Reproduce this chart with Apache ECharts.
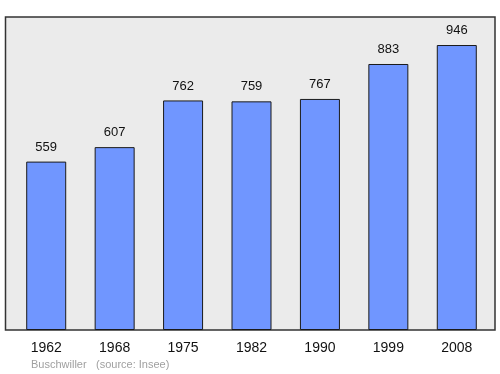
<!DOCTYPE html>
<html><head><meta charset="utf-8">
<script src="https://cdn.jsdelivr.net/npm/echarts@6/dist/echarts.min.js"></script>
<style>html,body{margin:0;padding:0;background:#fff}#c{width:500px;height:374px}</style>
</head><body><div id="c"></div>
<script>
const categories = ['1962','1968','1975','1982','1990','1999','2008'];
const population = [559, 607, 762, 759, 767, 883, 946];
const footerPlace = 'Buschwiller';
const footerSource = '(source: Insee)';

const FONT = '"Liberation Sans", Arial, sans-serif';
const chart = echarts.init(document.getElementById('c'), null, {renderer:'canvas'});
chart.setOption({
  animation: false,
  backgroundColor: '#ffffff',
  graphic: [
    {type:'rect', z:-10, shape:{x:5.5, y:17, width:489.5, height:313}, style:{fill:'#ebebeb', stroke:'#333333', lineWidth:1.5}},
    {type:'text', left:31, top:359, style:{text:footerPlace, fill:'#a0a0a0', font:'11px ' + FONT}},
    {type:'text', left:96, top:359, style:{text:footerSource, fill:'#a0a0a0', font:'11px ' + FONT}}
  ],
  grid: {left:12, right:9, top:17, bottom:44, containLabel:false},
  xAxis: {
    type:'category', data:categories,
    axisLine:{show:false}, axisTick:{show:false},
    axisLabel:{color:'#111', fontSize:14, margin:11, fontFamily:FONT}
  },
  yAxis: {type:'value', min:0, max:1039, show:false, splitLine:{show:false}},
  series: [{
    type:'bar', data:population, barWidth:40,
    itemStyle:{color:'#7096ff', borderColor:'#1a1a1a', borderWidth:1},
    label:{show:true, position:'top', distance:8, color:'#111', fontSize:13, fontFamily:FONT}
  }]
});
</script></body></html>
